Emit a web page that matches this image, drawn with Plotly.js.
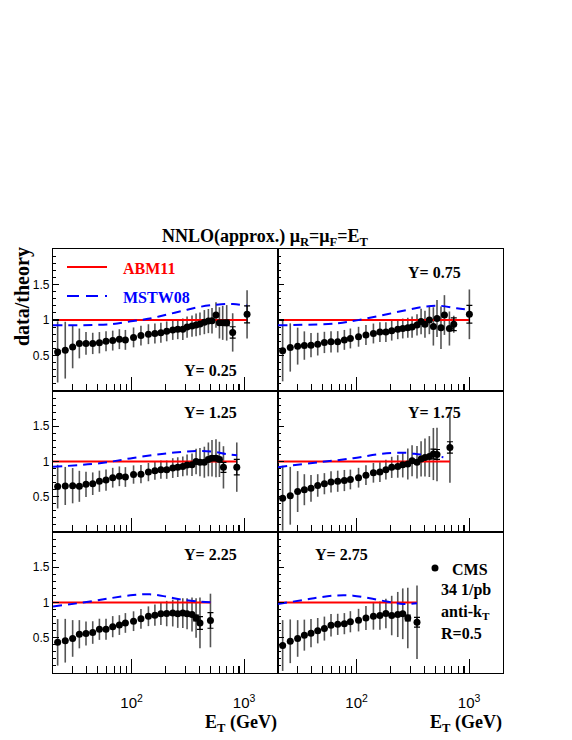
<!DOCTYPE html>
<html>
<head>
<meta charset="utf-8">
<script src="https://cdn.plot.ly/plotly-3.0.1.min.js"></script>
<style>
  html, body { margin: 0; padding: 0; background: #fff; }
  #plot { width: 572px; height: 740px; }
</style>
</head>
<body>
<div id="plot"></div>
<script>
// CMS incl. jets 34 1/pb, data/theory (ABM11 = 1), sechs Rapiditaetsbins
var et1 = [22, 25.7, 29.9, 34.3, 39.3, 45.1, 51.7, 59.2, 67.9, 77.8, 88, 104, 121, 141, 161, 182, 205, 232, 257, 285, 311, 344, 374, 405, 443, 481, 518, 562, 603, 645, 700, 791, 1062];
var r1  = [0.55, 0.575, 0.62, 0.67, 0.67, 0.67, 0.68, 0.70, 0.71, 0.73, 0.72, 0.755, 0.78, 0.80, 0.81, 0.82, 0.84, 0.86, 0.87, 0.87, 0.90, 0.915, 0.93, 0.945, 0.97, 0.985, 0.99, 1.07, 0.96, 0.96, 0.96, 0.825, 1.08];
var e1  = [0.43, 0.40, 0.30, 0.21, 0.16, 0.15, 0.15, 0.14, 0.14, 0.14, 0.14, 0.14, 0.14, 0.14, 0.14, 0.14, 0.14, 0.14, 0.14, 0.15, 0.15, 0.15, 0.16, 0.16, 0.17, 0.17, 0.18, 0.18, 0.22, 0.24, 0.25, 0.27, 0.34];
var s1  = [0, 0, 0, 0, 0, 0, 0, 0, 0, 0, 0, 0, 0, 0, 0, 0, 0, 0, 0, 0, 0, 0, 0, 0, 0, 0, 0, 0, 0, 0.03, 0.04, 0.08, 0.12];
var m1x = [20, 64, 103, 145, 204, 286, 403, 567, 796, 1062];
var m1y = [0.925, 0.94, 0.985, 1.02, 1.075, 1.13, 1.185, 1.215, 1.225, 1.2];

var et2 = [22, 25.7, 29.9, 34.3, 39.3, 45.1, 51.7, 59.2, 67.9, 77.8, 88, 104, 121, 141, 161, 182, 205, 232, 257, 285, 311, 344, 374, 405, 443, 481, 518, 562, 603, 668, 730, 1005];
var r2  = [0.566, 0.613, 0.632, 0.64, 0.646, 0.66, 0.684, 0.693, 0.693, 0.72, 0.74, 0.764, 0.788, 0.81, 0.83, 0.83, 0.85, 0.87, 0.88, 0.89, 0.90, 0.93, 0.98, 0.94, 1.0, 0.91, 1.02, 0.89, 1.07, 0.88, 0.94, 1.08];
var e2  = [0.43, 0.34, 0.26, 0.2, 0.17, 0.16, 0.15, 0.15, 0.15, 0.14, 0.14, 0.14, 0.14, 0.14, 0.14, 0.14, 0.14, 0.14, 0.14, 0.14, 0.15, 0.15, 0.18, 0.19, 0.2, 0.27, 0.26, 0.3, 0.28, 0.24, 0.12, 0.35];
var s2  = [0, 0, 0, 0, 0, 0, 0, 0, 0, 0, 0, 0, 0, 0, 0, 0, 0, 0, 0, 0, 0, 0, 0, 0, 0, 0, 0, 0, 0, 0, 0.09, 0.125];
var m2x = [20, 66, 100, 161, 260, 392, 551, 776, 1019];
var m2y = [0.925, 0.953, 0.995, 1.06, 1.13, 1.185, 1.2, 1.165, 1.145];

var et3 = [22, 25.7, 29.9, 34.3, 39.3, 45.1, 51.7, 59.2, 67.9, 77.8, 88, 104, 121, 141, 161, 182, 205, 232, 257, 285, 311, 344, 374, 405, 443, 481, 518, 562, 603, 655, 860];
var r3  = [0.644, 0.653, 0.657, 0.648, 0.676, 0.685, 0.72, 0.736, 0.77, 0.79, 0.78, 0.815, 0.82, 0.85, 0.87, 0.884, 0.884, 0.907, 0.92, 0.93, 0.95, 0.954, 1.0, 0.99, 0.99, 1.03, 1.046, 1.046, 1.03, 0.917, 0.92];
var e3  = [0.31, 0.27, 0.25, 0.22, 0.18, 0.16, 0.15, 0.15, 0.14, 0.14, 0.14, 0.13, 0.13, 0.13, 0.13, 0.13, 0.13, 0.14, 0.14, 0.14, 0.15, 0.16, 0.18, 0.2, 0.22, 0.24, 0.26, 0.27, 0.25, 0.3, 0.35];
var s3  = [0, 0, 0, 0, 0, 0, 0, 0, 0, 0, 0, 0, 0, 0, 0, 0, 0, 0, 0, 0, 0, 0, 0, 0, 0, 0.03, 0.03, 0.03, 0.03, 0.07, 0.11];
var m3x = [20, 52, 103, 204, 377, 529, 695, 865];
var m3y = [0.925, 0.975, 1.05, 1.115, 1.148, 1.14, 1.105, 1.09];

var et4 = [22, 25.7, 29.9, 34.3, 39.3, 45.1, 51.7, 59.2, 67.9, 77.8, 88, 104, 121, 141, 161, 182, 205, 232, 257, 285, 311, 344, 374, 405, 443, 481, 518, 675];
var r4  = [0.48, 0.514, 0.574, 0.60, 0.62, 0.66, 0.685, 0.71, 0.72, 0.73, 0.745, 0.77, 0.806, 0.84, 0.85, 0.884, 0.917, 0.93, 0.954, 0.963, 1.01, 0.99, 1.037, 1.056, 1.07, 1.106, 1.10, 1.2];
var e4  = [0.46, 0.41, 0.29, 0.22, 0.19, 0.16, 0.15, 0.15, 0.15, 0.15, 0.14, 0.14, 0.14, 0.14, 0.14, 0.14, 0.15, 0.16, 0.18, 0.22, 0.22, 0.23, 0.25, 0.27, 0.29, 0.37, 0.38, 0.5];
var s4  = [0, 0, 0, 0, 0, 0, 0, 0, 0, 0, 0, 0, 0, 0, 0, 0, 0, 0, 0, 0, 0, 0, 0, 0, 0, 0.07, 0.07, 0.08];
var m4x = [20, 47, 93, 161, 260, 366, 515, 590];
var m4y = [0.92, 0.99, 1.046, 1.106, 1.125, 1.1, 1.075, 1.06];

var et5 = [22, 25.7, 29.9, 34.3, 39.3, 45.1, 51.7, 59.2, 67.9, 77.8, 88, 104, 121, 141, 161, 182, 205, 232, 257, 285, 311, 344, 374, 405, 502];
var r5  = [0.435, 0.458, 0.49, 0.55, 0.56, 0.574, 0.62, 0.62, 0.657, 0.68, 0.71, 0.735, 0.768, 0.805, 0.82, 0.84, 0.843, 0.85, 0.84, 0.85, 0.84, 0.83, 0.78, 0.71, 0.745];
var e5  = [0.33, 0.31, 0.26, 0.2, 0.17, 0.16, 0.15, 0.15, 0.15, 0.14, 0.14, 0.14, 0.14, 0.14, 0.15, 0.16, 0.18, 0.19, 0.2, 0.21, 0.22, 0.24, 0.28, 0.36, 0.38];
var s5  = [0, 0, 0, 0, 0, 0, 0, 0, 0, 0, 0, 0, 0, 0, 0, 0, 0, 0, 0, 0, 0, 0, 0.04, 0.09, 0.11];
var m5x = [20, 37, 64, 103, 145, 204, 286, 403, 502];
var m5y = [0.944, 1.0, 1.06, 1.106, 1.116, 1.083, 1.037, 1.014, 1.005];

var et6 = [22, 25.7, 29.9, 34.3, 39.3, 45.1, 51.7, 59.2, 67.9, 77.8, 88, 104, 121, 141, 161, 182, 205, 232, 257, 285, 344];
var r6  = [0.39, 0.45, 0.49, 0.537, 0.565, 0.6, 0.63, 0.676, 0.69, 0.70, 0.727, 0.75, 0.78, 0.805, 0.815, 0.843, 0.815, 0.83, 0.84, 0.78, 0.72];
var e6  = [0.36, 0.31, 0.26, 0.22, 0.2, 0.18, 0.17, 0.16, 0.15, 0.15, 0.15, 0.16, 0.17, 0.19, 0.2, 0.21, 0.28, 0.32, 0.36, 0.43, 0.52];
var s6  = [0, 0, 0, 0, 0, 0, 0, 0, 0, 0, 0, 0, 0, 0, 0, 0, 0, 0, 0, 0.04, 0.07];
var m6x = [20, 34, 47, 66, 93, 131, 185, 260, 344];
var m6y = [0.98, 1.037, 1.074, 1.1, 1.097, 1.06, 1.014, 0.98, 0.99];

var rapLabels = ['Y= 0.25', 'Y= 0.75', 'Y= 1.25', 'Y= 1.75', 'Y= 2.25', 'Y= 2.75'];
var etMin = 20, etMax = 2000;

var panels = [
  {et: et1, r: r1, e: e1, s: s1, mx: m1x, my: m1y},
  {et: et2, r: r2, e: e2, s: s2, mx: m2x, my: m2y},
  {et: et3, r: r3, e: e3, s: s3, mx: m3x, my: m3y},
  {et: et4, r: r4, e: e4, s: s4, mx: m4x, my: m4y},
  {et: et5, r: r5, e: e5, s: s5, mx: m5x, my: m5y},
  {et: et6, r: r6, e: e6, s: s6, mx: m6x, my: m6y}
];

// Pixel -> paper Umrechnung (572x740)
var W = 572, H = 740;
function px(x) { return x / W; }
function py(y) { return 1 - y / H; }

var colDom = [[px(53), px(278)], [px(278), px(503)]];
var rowDom = [[py(391), py(249)], [py(532), py(391)], [py(673), py(532)]];

var serif = 'Liberation Serif, Times New Roman, serif';
var sans = 'Liberation Sans, Arial, sans-serif';

var traces = [];
var layout = {
  width: W, height: H, autosize: false,
  margin: {l: 0, r: 0, t: 0, b: 0},
  paper_bgcolor: '#fff', plot_bgcolor: '#fff',
  showlegend: false,
  title: {
    text: 'NNLO(approx.) \u03bc<sub>R</sub>=\u03bc<sub>F</sub>=E<sub>T</sub>',
    x: px(265), y: py(236), xanchor: 'center', yanchor: 'middle',
    font: {family: serif, size: 18, color: '#000', weight: 'bold'}
  },
  annotations: [],
  shapes: []
};

var minorX = [20, 30, 40, 50, 60, 70, 80, 90, 200, 300, 400, 500, 600, 700, 800, 900, 2000];

for (var i = 0; i < panels.length; i++) {
  var p = panels[i];
  var n = (i == 0) ? '' : String(i + 1);
  var col = i % 2, row = Math.floor(i / 2);
  var xa = 'x' + n, ya = 'y' + n;

  // volle Fehler (ohne Kappen)
  traces.push({
    x: p.et, y: p.r, xaxis: xa, yaxis: ya, type: 'scatter', mode: 'markers',
    marker: {size: 1, color: 'rgba(0,0,0,0)'},
    error_y: {type: 'data', array: p.e, visible: true, width: 0, thickness: 1.6, color: '#555'},
    hoverinfo: 'skip'
  });
  // ABM11 = 1
  traces.push({
    x: [etMin, p.et[p.et.length - 1]], y: [1, 1], xaxis: xa, yaxis: ya,
    type: 'scatter', mode: 'lines', name: 'ABM11',
    line: {color: '#ff0000', width: 2}
  });
  // MSTW08
  traces.push({
    x: p.mx, y: p.my, xaxis: xa, yaxis: ya,
    type: 'scatter', mode: 'lines', name: 'MSTW08',
    line: {color: '#0000ff', width: 2, dash: '9px,6px', shape: 'spline'}
  });
  // CMS Punkte + stat. Fehler
  traces.push({
    x: p.et, y: p.r, xaxis: xa, yaxis: ya, type: 'scatter', mode: 'markers', name: 'CMS',
    marker: {size: 7, color: '#000'},
    error_y: {type: 'data', array: p.s, visible: true, width: 3, thickness: 1.2, color: '#000'}
  });

  layout['xaxis' + n] = {
    type: 'log', range: [Math.log10(etMin), Math.log10(etMax)],
    domain: colDom[col], anchor: ya,
    showline: true, mirror: true, linecolor: '#000', linewidth: 1.2,
    showgrid: false, zeroline: false,
    ticks: 'inside', ticklen: 14, tickwidth: 1.2, tickcolor: '#000',
    tickmode: 'array', tickvals: [100, 1000], ticktext: ['10<sup>2</sup>', '10<sup>3</sup>'],
    minor: {tickmode: 'array', tickvals: minorX, ticks: 'inside', ticklen: 7, tickwidth: 1.2, tickcolor: '#000', showgrid: false},
    showticklabels: row == 2,
    ticklabelstandoff: 16,
    tickfont: {family: sans, size: 15, color: '#000'}
  };
  layout['yaxis' + n] = {
    range: [0, 2], domain: rowDom[row], anchor: xa,
    showline: true, mirror: true, linecolor: '#000', linewidth: 1.2,
    showgrid: false, zeroline: false,
    ticks: 'inside', ticklen: 6, tickwidth: 1.2, tickcolor: '#000',
    tickmode: 'array', tickvals: [0.5, 1, 1.5], ticktext: ['0.5', '1', '1.5'],
    minor: {tickmode: 'linear', tick0: 0, dtick: 0.1, ticks: 'inside', ticklen: 3, tickwidth: 1, tickcolor: '#000', showgrid: false},
    showticklabels: col == 0,
    tickfont: {family: sans, size: 12, color: '#000'}
  };
}

// Rapiditaets-Beschriftungen
var labPos = [[210, 370], [434, 272], [210, 412], [434, 412], [210, 554], [341, 554]];
for (var k = 0; k < rapLabels.length; k++) {
  layout.annotations.push({
    text: rapLabels[k], xref: 'paper', yref: 'paper',
    x: px(labPos[k][0]), y: py(labPos[k][1]), xanchor: 'center', yanchor: 'middle',
    showarrow: false, font: {family: serif, size: 16, color: '#000', weight: 'bold'}
  });
}

function txt(t, x, y, xanchor, size, color, angle) {
  layout.annotations.push({
    text: t, xref: 'paper', yref: 'paper', x: px(x), y: py(y),
    xanchor: xanchor, yanchor: 'middle', showarrow: false, textangle: angle || 0,
    font: {family: serif, size: size, color: color, weight: 'bold'}
  });
}

// Achsentitel
txt('data/theory', 22, 297, 'center', 20, '#000', -90);
txt('E<sub>T</sub> (GeV)', 279, 723, 'right', 18, '#000');
txt('E<sub>T</sub> (GeV)', 504, 723, 'right', 18, '#000');

// Legende oben links
layout.shapes.push({type: 'line', xref: 'paper', yref: 'paper', x0: px(67), x1: px(107), y0: py(267), y1: py(267), line: {color: '#ff0000', width: 2}});
layout.shapes.push({type: 'line', xref: 'paper', yref: 'paper', x0: px(67), x1: px(107), y0: py(296), y1: py(296), line: {color: '#0000ff', width: 2, dash: '12px,7px'}});
txt('ABM11', 121, 268, 'left', 16, '#ff0000');
txt('MSTW08', 121, 297, 'left', 16, '#0000ff');

// CMS Legende unten rechts
layout.shapes.push({type: 'circle', xref: 'paper', yref: 'paper', x0: px(431.5), x1: px(438.5), y0: py(564.5), y1: py(571.5), fillcolor: '#000', line: {color: '#000', width: 0}});
txt('CMS', 450, 569, 'left', 16, '#000');
txt('34 1/pb', 439, 590, 'left', 16, '#000');
txt('anti-k<sub>T</sub>', 439, 612, 'left', 16, '#000');
txt('R=0.5', 439, 633, 'left', 16, '#000');

Plotly.newPlot('plot', traces, layout, {staticPlot: true});
</script>
</body>
</html>
